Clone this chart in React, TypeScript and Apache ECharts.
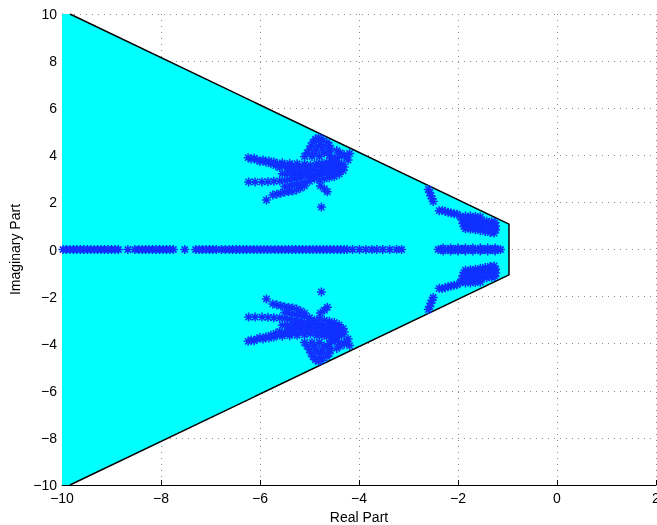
import React, { useEffect, useRef } from 'react';
import * as echarts from 'echarts';

// Stability region (cyan) boundary vertices
const regionX = [-10, -9.84, -0.97, -0.97, -9.84, -10];
const regionY = [10, 10, 1.08, -1.08, -10, -10];
const edgeX = [-9.84, -0.97, -0.97, -9.84];
const edgeY = [10, 1.08, -1.08, -10];

// Real poles (imaginary part 0)
const realPoles = [
  -9.98, -9.91, -9.84, -9.77, -9.7, -9.63, -9.56, -9.49, -9.42, -9.35, -9.28, -9.21, -9.14, -9.07, -9.0, -8.93, -8.86,
  -8.67, -8.53,
  -8.45, -8.38, -8.31, -8.24, -8.17, -8.1, -8.03, -7.96, -7.89, -7.82, -7.75,
  -7.52,
  -7.3, -7.23, -7.16, -7.09, -7.02, -6.95, -6.88, -6.78, -6.7, -6.62, -6.55, -6.48, -6.41, -6.34, -6.27, -6.2, -6.13,
  -6.06, -5.99, -5.92, -5.85, -5.78,
  -5.7, -5.63, -5.56, -5.49, -5.42, -5.35, -5.28, -5.21, -5.14, -5.07, -5.0, -4.93, -4.86, -4.79, -4.72, -4.65, -4.58,
  -4.51, -4.44, -4.37, -4.3, -4.24,
  -4.13, -3.99, -3.86, -3.74, -3.64, -3.52, -3.38, -3.24, -3.14,
  -2.4, -2.33, -2.26, -2.2, -2.13, -2.06, -2.0, -1.93, -1.86, -1.8, -1.73, -1.66, -1.6, -1.53, -1.46, -1.4, -1.33,
  -1.26, -1.2, -1.14,
];

// Complex poles, upper half plane (their conjugates are plotted too)
const leftClusterPoles: [number, number][] = [
  // arm
  [-6.24, 3.9], [-6.18, 3.84], [-6.12, 3.88], [-6.06, 3.8], [-6.0, 3.74], [-5.94, 3.8], [-5.88, 3.7], [-5.82, 3.76],
  [-5.78, 3.64], [-5.72, 3.72], [-5.68, 3.56], [-5.65, 3.64], [-5.6, 3.48], [-5.55, 3.68], [-5.5, 3.58], [-5.45, 3.44],
  [-5.42, 3.34], [-5.4, 3.66], [-5.35, 3.54], [-5.3, 3.4], [-5.28, 3.28], [-5.25, 3.64], [-5.2, 3.5], [-5.18, 3.34],
  [-5.14, 3.24], [-5.1, 3.62], [-5.08, 3.45], [-5.02, 3.3], [-5.0, 3.2], [-4.98, 3.58], [-4.95, 3.42],
  [-5.55, 3.22], [-5.45, 3.2], [-5.35, 3.18], [-5.25, 3.15], [-5.15, 3.12], [-5.05, 3.1], [-4.95, 3.08],
  // lower streaks
  [-6.23, 2.87], [-6.1, 2.87], [-5.96, 2.87], [-5.84, 2.88], [-5.72, 2.9], [-5.6, 2.91], [-5.5, 2.93], [-5.4, 2.96],
  [-5.3, 2.99], [-5.2, 3.02],
  [-5.5, 2.68], [-5.4, 2.72], [-5.3, 2.76], [-5.2, 2.8], [-5.1, 2.85], [-5.0, 2.9],
  [-5.74, 2.31], [-5.66, 2.35], [-5.58, 2.39], [-5.5, 2.44], [-5.42, 2.46], [-5.34, 2.48], [-5.26, 2.53],
  [-5.18, 2.61], [-5.1, 2.7],
  [-5.87, 2.1], [-4.76, 1.8], [-4.78, 2.7], [-4.7, 2.58], [-4.64, 2.45],
  // palm
  [-4.9, 3.0], [-4.8, 2.95], [-4.7, 3.0], [-4.6, 3.05], [-4.5, 3.1], [-4.4, 3.2],
  [-4.9, 3.15], [-4.8, 3.15], [-4.7, 3.2], [-4.6, 3.2], [-4.5, 3.25], [-4.4, 3.3], [-4.32, 3.35],
  [-4.88, 3.3], [-4.78, 3.32], [-4.68, 3.35], [-4.58, 3.38], [-4.48, 3.4], [-4.38, 3.45], [-4.3, 3.5],
  [-4.85, 3.48], [-4.75, 3.5], [-4.65, 3.52], [-4.55, 3.55], [-4.45, 3.58], [-4.35, 3.62],
  [-4.85, 3.65], [-4.75, 3.66], [-4.65, 3.7], [-4.55, 3.72], [-4.45, 3.75],
  // fingers
  [-5.05, 4.1], [-5.0, 4.25], [-4.97, 4.4], [-4.93, 4.55], [-4.88, 4.68], [-4.82, 4.75], [-4.75, 4.7], [-4.78, 4.55],
  [-4.82, 4.4], [-4.87, 4.25], [-4.9, 4.1], [-4.95, 3.95], [-4.75, 4.25], [-4.72, 4.4], [-4.7, 4.1], [-4.8, 3.95],
  [-5.1, 3.95],
  [-4.65, 4.55], [-4.6, 4.42], [-4.58, 4.28], [-4.62, 4.15], [-4.6, 4.0], [-4.55, 3.88],
  [-4.45, 4.2], [-4.38, 4.1], [-4.3, 4.02], [-4.25, 3.9], [-4.22, 3.8], [-4.4, 3.95], [-4.48, 3.88], [-4.19, 4.08],
];

const rightClusterPoles: [number, number][] = [
  [-2.6, 2.55], [-2.57, 2.42], [-2.55, 2.28], [-2.52, 2.15], [-2.5, 2.04],
  [-2.38, 1.65], [-2.32, 1.66], [-2.26, 1.62], [-2.2, 1.58], [-2.14, 1.55], [-2.08, 1.52], [-2.02, 1.5],
  [-1.95, 1.4], [-1.85, 1.42], [-1.75, 1.42], [-1.65, 1.4], [-1.55, 1.38],
  [-1.92, 1.25], [-1.82, 1.25], [-1.72, 1.25], [-1.62, 1.24], [-1.52, 1.22], [-1.42, 1.2], [-1.32, 1.18], [-1.25, 1.15],
  [-1.9, 1.1], [-1.8, 1.1], [-1.7, 1.1], [-1.6, 1.08], [-1.5, 1.06], [-1.4, 1.05], [-1.3, 1.03], [-1.24, 1.0],
  [-1.88, 0.98], [-1.78, 0.97], [-1.68, 0.95], [-1.58, 0.92], [-1.48, 0.9], [-1.38, 0.88], [-1.3, 0.86], [-1.24, 0.84],
  [-1.85, 0.88], [-1.75, 0.86], [-1.65, 0.84], [-1.55, 0.8], [-1.45, 0.76], [-1.35, 0.72], [-1.27, 0.7],
  [-2.3, 0.06], [-2.15, 0.06], [-2.0, 0.06], [-1.85, 0.06], [-1.7, 0.06], [-1.55, 0.06], [-1.4, 0.06], [-1.25, 0.06],
];

const xTickMin = -10;
const xTickMax = 2;
const yTickMin = -10;
const yTickMax = 10;
const tickStep = 2;

const BLUE = '#1030ff';
const ASTERISK = 'path://M5,0 L5,10 M0,5 L10,5 M1.5,1.5 L8.5,8.5 M1.5,8.5 L8.5,1.5';

const fmt = (v: number) => (v < 0 ? '\u2212' + Math.abs(v) : String(v));

export default function App() {
  const ref = useRef<HTMLDivElement>(null);
  useEffect(() => {
    if (!ref.current) return;
    const chart = echarts.init(ref.current, null, { renderer: 'svg' });
    const upper = [...leftClusterPoles, ...rightClusterPoles];
    const conj = upper.map(([x, y]) => [x, -y]);
    const poles = [...realPoles.map((x) => [x, 0]), ...upper, ...conj];
    const font = 'Liberation Sans, Arial, Helvetica, sans-serif';
    const axisCommon = {
      type: 'value' as const,
      interval: tickStep,
      axisLine: { show: true, onZero: false, lineStyle: { color: '#000', width: 1 } },
      axisTick: { show: true, inside: true, length: 5, lineStyle: { color: '#000' } },
      splitLine: { show: true, lineStyle: { color: '#8c8c8c', type: [1, 5], width: 1 } },
      axisLabel: { color: '#000', fontSize: 14, fontFamily: font, formatter: fmt, showMinLabel: true, showMaxLabel: true },
      nameLocation: 'middle' as const,
      nameTextStyle: { color: '#000', fontSize: 14, fontFamily: font },
    };
    chart.setOption({
      animation: false,
      grid: { left: 62, right: 1, top: 14, bottom: 40, containLabel: false, outerBoundsMode: 'none' },
      xAxis: {
        ...axisCommon,
        min: xTickMin,
        max: xTickMax,
        name: 'Real Part',
        nameGap: 20,
        axisLabel: { ...axisCommon.axisLabel, margin: 6 },
      },
      yAxis: {
        ...axisCommon,
        min: yTickMin,
        max: yTickMax,
        name: 'Imaginary Part',
        nameGap: 33,
        nameRotate: 90,
        axisLabel: { ...axisCommon.axisLabel, margin: 5 },
      },
      series: [
        {
          type: 'custom',
          z: 1,
          silent: true,
          clip: true,
          data: [[regionX[0], regionY[0]]],
          renderItem: (params: any, api: any) => {
            const points = regionX.map((x, i) => api.coord([x, regionY[i]]));
            return { type: 'polygon', shape: { points }, style: { fill: '#00ffff' } };
          },
        },
        {
          type: 'line',
          z: 2,
          silent: true,
          symbol: 'none',
          data: edgeX.map((x, i) => [x, edgeY[i]]),
          lineStyle: { color: '#000', width: 1.5 },
        },
        {
          type: 'scatter',
          z: 3,
          silent: true,
          symbol: ASTERISK,
          symbolSize: 9,
          data: poles,
          itemStyle: { color: 'rgba(0,0,0,0)', borderColor: BLUE, borderWidth: 1.5, opacity: 1 },
        },
      ],
    });
    return () => chart.dispose();
  }, []);
  return <div ref={ref} style={{ position: 'fixed', left: 0, top: 0, width: 657, height: 525 }} />;
}
